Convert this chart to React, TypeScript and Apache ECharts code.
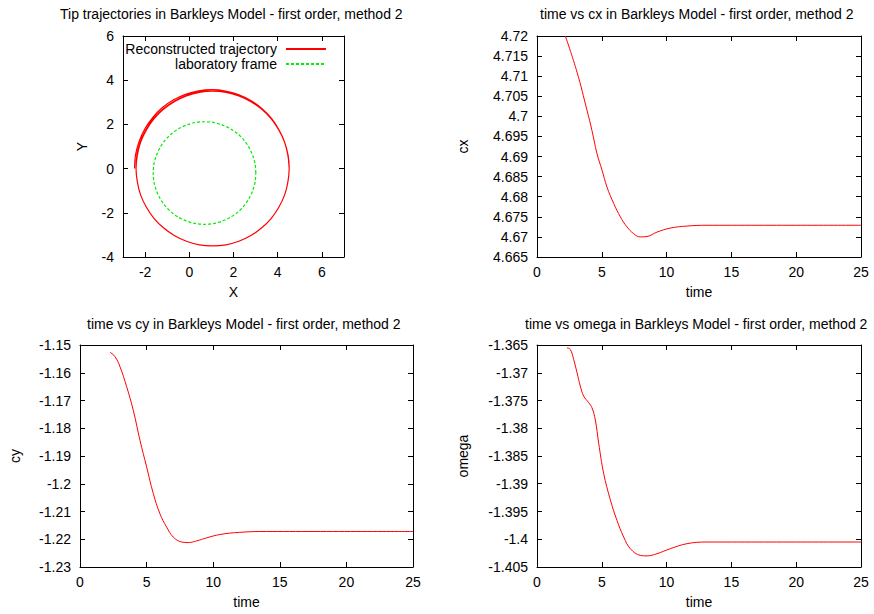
import React, { useEffect, useRef } from "react";
import * as echarts from "echarts";

const FONT = "Liberation Sans, Arial, sans-serif";

// Panel 1: tip trajectory (reconstructed), clockwise from the left
const trajX = [
  -2.48, -2.43, -2.27, -2.01, -1.66, -1.23, -0.73, -0.17, 0.42, 1.03, 1.64, 2.22, 2.78, 3.28, 3.71, 4.05, 4.31, 4.47, 4.52,
  4.46, 4.31, 4.05, 3.71, 3.28, 2.79, 2.24, 1.66, 1.06, 0.45, -0.13, -0.68, -1.17, -1.6, -1.94, -2.2, -2.35, -2.41,
  -2.37, -2.22, -1.96, -1.62, -1.19, -0.69, -0.14, 0.44, 1.05, 1.66, 2.24, 2.79, 3.28, 3.71, 4.05, 4.31, 4.46, 4.52,
  4.46, 4.31, 4.05, 3.71, 3.28, 2.79, 2.24, 1.66, 1.06, 0.45, -0.13, -0.68, -1.17, -1.6, -1.94, -2.2, -2.35, -2.41,
  -2.35, -2.2, -1.94, -1.6, -1.17, -0.68, -0.13, 0.45, 1.06, 1.66, 2.24, 2.79, 3.28, 3.71, 4.05, 4.31, 4.46, 4.52,
];
const trajY = [
  0.0, 0.63, 1.23, 1.8, 2.31, 2.75, 3.1, 3.36, 3.52, 3.57, 3.51, 3.35, 3.08, 2.72, 2.28, 1.77, 1.21, 0.61, 0.0,
  -0.61, -1.2, -1.75, -2.25, -2.68, -3.03, -3.29, -3.45, -3.5, -3.45, -3.29, -3.03, -2.68, -2.25, -1.75, -1.2, -0.61, 0.0,
  0.62, 1.21, 1.77, 2.27, 2.7, 3.05, 3.31, 3.47, 3.52, 3.46, 3.3, 3.04, 2.69, 2.26, 1.75, 1.2, 0.61, 0.0,
  -0.61, -1.2, -1.75, -2.25, -2.68, -3.03, -3.29, -3.45, -3.5, -3.45, -3.29, -3.03, -2.68, -2.25, -1.75, -1.2, -0.61, 0.0,
  0.61, 1.2, 1.75, 2.25, 2.68, 3.03, 3.29, 3.45, 3.5, 3.45, 3.29, 3.03, 2.68, 2.25, 1.75, 1.2, 0.61, 0.0,
];
// laboratory frame circle
const labX = [
  3.01, 2.98, 2.87, 2.7, 2.47, 2.18, 1.85, 1.48, 1.09, 0.69, 0.29, -0.1, -0.47, -0.8, -1.09, -1.32, -1.49, -1.6, -1.63,
  -1.6, -1.49, -1.32, -1.09, -0.8, -0.47, -0.1, 0.29, 0.69, 1.09, 1.48, 1.85, 2.18, 2.47, 2.7, 2.87, 2.98, 3.01,
];
const labY = [
  -0.2, 0.2, 0.59, 0.96, 1.29, 1.58, 1.81, 1.98, 2.09, 2.12, 2.09, 1.98, 1.81, 1.58, 1.29, 0.96, 0.59, 0.2, -0.2,
  -0.6, -0.99, -1.36, -1.69, -1.98, -2.21, -2.38, -2.49, -2.52, -2.49, -2.38, -2.21, -1.98, -1.69, -1.36, -0.99, -0.6, -0.2,
];

// Panel 2: time vs cx
const cxTime = [2.19, 3.09, 3.86, 4.24, 4.63, 5.02, 5.4, 5.92, 6.43, 6.94, 7.46, 7.97, 8.49, 9.26, 10.29, 11.57, 13.12, 25];
const cxVal = [4.72, 4.711, 4.7015, 4.6965, 4.6907, 4.6866, 4.6824, 4.6783, 4.675, 4.6725, 4.6708, 4.67, 4.6701, 4.6712, 4.6722, 4.6727, 4.6729, 4.6729];

// Panel 3: time vs cy
const cyTime = [2.25, 2.63, 3.0, 3.5, 4.0, 4.5, 5.0, 5.5, 6.0, 6.5, 7.0, 7.63, 8.13, 8.75, 9.5, 10.5, 12.0, 14.0, 25];
const cyVal = [-1.1526, -1.1542, -1.1578, -1.165, -1.1735, -1.1843, -1.1939, -1.2035, -1.2108, -1.2156, -1.2192, -1.221, -1.2212, -1.2206, -1.2195, -1.2183, -1.2175, -1.2172, -1.2172];

// Panel 4: time vs omega
const omTime = [2.31, 2.57, 2.83, 3.09, 3.34, 3.6, 3.99, 4.24, 4.5, 4.76, 5.14, 5.66, 6.17, 6.69, 7.2, 7.97, 8.49, 9.26, 10.29, 11.57, 13.12, 25];
const omVal = [-1.3655, -1.3658, -1.3676, -1.37, -1.3724, -1.3742, -1.3754, -1.3763, -1.3785, -1.3827, -1.3881, -1.3929, -1.3966, -1.3996, -1.4017, -1.4029, -1.403, -1.4026, -1.4017, -1.4008, -1.4005, -1.4005];

const titles = [
  "Tip trajectories in Barkleys Model - first order, method 2",
  "time vs cx in Barkleys Model - first order, method 2",
  "time vs cy in Barkleys Model - first order, method 2",
  "time vs omega in Barkleys Model - first order, method 2",
];
const xNames = ["X", "time", "time", "time"];
const yNames = ["Y", "cx", "cy", "omega"];
const legendNames = ["Reconstructed trajectory", "laboratory frame"];

const zip = (a: number[], b: number[]) => a.map((v, i) => [v, b[i]]);

export default function App() {
  const ref = useRef<HTMLDivElement>(null);
  useEffect(() => {
    if (!ref.current) return;
    const chart = echarts.init(ref.current, null, { renderer: "svg" });

    const grids = [
      { left: 123, top: 36, width: 221, height: 221 },
      { left: 537, top: 36, width: 324, height: 221 },
      { left: 80, top: 345, width: 333, height: 222 },
      { left: 537, top: 345, width: 324, height: 222 },
    ];
    const xr: any[] = [
      { min: -3, max: 7, splitNumber: 5 },
      { min: 0, max: 25, interval: 5 },
      { min: 0, max: 25, interval: 5 },
      { min: 0, max: 25, interval: 5 },
    ];
    const yr: any[] = [
      { min: -4, max: 6, interval: 2 },
      { min: 4.665, max: 4.72, interval: 0.005 },
      { min: -1.23, max: -1.15, interval: 0.01 },
      { min: -1.405, max: -1.365, interval: 0.005 },
    ];
    const yGaps = [34, 67, 58, 67];

    const axisLine = { show: true, onZero: false, lineStyle: { color: "#000", width: 1 } };
    const axisTick = { show: true, inside: true, length: 5, lineStyle: { color: "#000" } };
    const labelStyle = { color: "#000", fontSize: 14, fontFamily: FONT };
    const nameStyle = { color: "#000", fontSize: 14, fontFamily: FONT };

    const xAxis: any[] = [];
    const yAxis: any[] = [];
    for (let i = 0; i < 4; i++) {
      xAxis.push({
        type: "value", gridIndex: i, position: "bottom", ...xr[i],
        name: xNames[i], nameLocation: "middle", nameGap: 28, nameTextStyle: nameStyle,
        axisLine, axisTick, splitLine: { show: false },
        axisLabel: {
          ...labelStyle, margin: 8,
          formatter: i === 0 ? (v: number) => (Math.abs(v % 2) < 1e-9 ? String(v) : "") : undefined,
          showMinLabel: i === 0 ? false : true,
          showMaxLabel: i === 0 ? false : true,
        },
      });
    }
    for (let i = 0; i < 4; i++) {
      xAxis.push({
        type: "value", gridIndex: i, position: "top", ...xr[i],
        axisLine, axisTick, splitLine: { show: false }, axisLabel: { show: false },
      });
    }
    for (let i = 0; i < 4; i++) {
      yAxis.push({
        type: "value", gridIndex: i, position: "left", ...yr[i],
        name: yNames[i], nameLocation: "middle", nameGap: yGaps[i], nameRotate: 90,
        nameTextStyle: nameStyle,
        axisLine, axisTick, splitLine: { show: false },
        axisLabel: { ...labelStyle, margin: 9 },
      });
    }
    for (let i = 0; i < 4; i++) {
      yAxis.push({
        type: "value", gridIndex: i, position: "right", ...yr[i],
        axisLine, axisTick, splitLine: { show: false }, axisLabel: { show: false },
      });
    }

    const titleLefts = [60, 540, 87, 525];
    const titleTops = [7, 7, 317, 317];

    const lineBase = { type: "line", symbol: "none", animation: false, clip: true };

    chart.setOption({
      animation: false,
      textStyle: { fontFamily: FONT },
      title: titles.map((t, i) => ({
        text: t, left: titleLefts[i], top: titleTops[i], padding: 0,
        textStyle: { color: "#000", fontSize: 14, fontWeight: "normal", fontFamily: FONT },
      })),
      legend: legendNames.map((n, i) => ({
        data: [n], right: 547, top: 42 + i * 15, align: "right", orient: "vertical",
        itemWidth: 40, itemHeight: 14, padding: 0, selectedMode: false,
        itemStyle: { opacity: 0 },
        textStyle: { color: "#000", fontSize: 14, fontFamily: FONT, padding: [0, 4, 0, 0] },
      })),
      grid: grids,
      xAxis,
      yAxis,
      series: [
        {
          ...lineBase, name: legendNames[0], xAxisIndex: 0, yAxisIndex: 0,
          data: zip(trajX, trajY), smooth: 0.3,
          lineStyle: { color: "#ff0000", width: 1.2 }, itemStyle: { color: "#ff0000" },
        },
        {
          ...lineBase, name: legendNames[1], xAxisIndex: 0, yAxisIndex: 0,
          data: zip(labX, labY), smooth: 0.3,
          lineStyle: { color: "#00ee00", width: 1.2, type: [3, 2] }, itemStyle: { color: "#00ee00" },
        },
        {
          ...lineBase, name: "cx", xAxisIndex: 1, yAxisIndex: 1,
          data: zip(cxTime, cxVal), smooth: 0.4,
          lineStyle: { color: "#ff0000", width: 1 }, itemStyle: { color: "#ff0000" },
        },
        {
          ...lineBase, name: "cy", xAxisIndex: 2, yAxisIndex: 2,
          data: zip(cyTime, cyVal), smooth: 0.4,
          lineStyle: { color: "#ff0000", width: 1 }, itemStyle: { color: "#ff0000" },
        },
        {
          ...lineBase, name: "omega", xAxisIndex: 3, yAxisIndex: 3,
          data: zip(omTime, omVal), smooth: 0.4,
          lineStyle: { color: "#ff0000", width: 1 }, itemStyle: { color: "#ff0000" },
        },
      ],
    });
    return () => chart.dispose();
  }, []);

  return (
    <div
      ref={ref}
      style={{ position: "absolute", left: 0, top: 0, width: 874, height: 614, background: "#fff" }}
    />
  );
}
